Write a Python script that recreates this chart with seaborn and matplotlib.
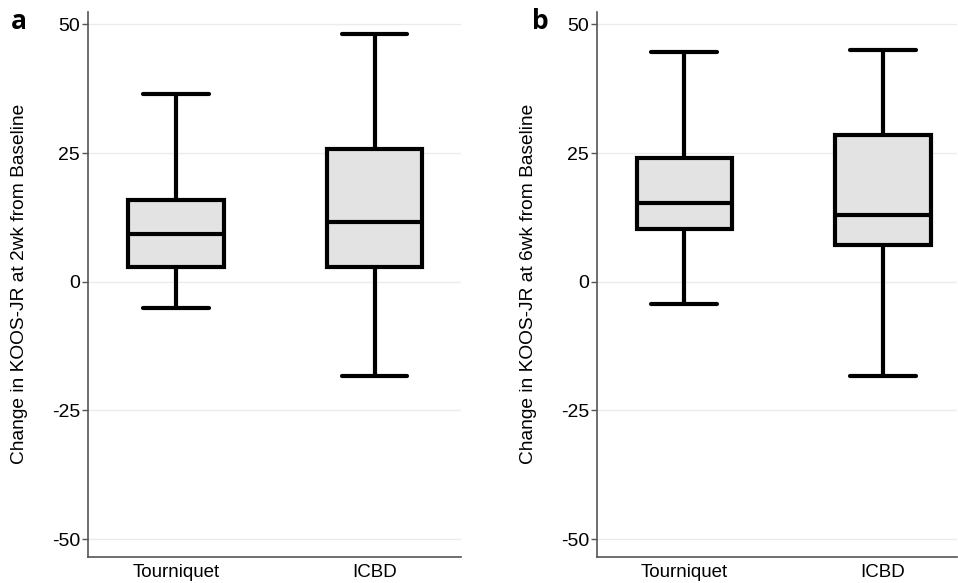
import matplotlib
matplotlib.use("Agg")
import matplotlib.pyplot as plt
import seaborn as sns
import pandas as pd
import numpy as np

# Five-number summaries: [min, Q1, median, Q3, max]
groups = ["Tourniquet", "ICBD"]
wk2_tourniquet = [-5.0, 2.8, 9.2, 15.9, 36.5]
wk2_icbd = [-18.3, 2.8, 11.7, 25.8, 48.2]
wk6_tourniquet = [-4.3, 10.2, 15.3, 24.0, 44.7]
wk6_icbd = [-18.3, 7.1, 13.0, 28.5, 45.0]
yticks = [-50, -25, 0, 25, 50]
ylabels = ["Change in KOOS-JR at 2wk from Baseline",
           "Change in KOOS-JR at 6wk from Baseline"]
panel_letters = ["a", "b"]

sns.set_style("white")
plt.rcParams["font.family"] = ["Liberation Sans", "DejaVu Sans"]
plt.rcParams["text.color"] = "black"

def frame(t, i):
    return pd.DataFrame({"group": [groups[0]] * len(t) + [groups[1]] * len(i),
                         "value": list(t) + list(i)})

dfs = [frame(wk2_tourniquet, wk2_icbd), frame(wk6_tourniquet, wk6_icbd)]

fig = plt.figure(figsize=(9.58, 5.83), dpi=100)
axes = [fig.add_axes([0.0922, 0.0451, 0.389, 0.9343]),
        fig.add_axes([0.6235, 0.0451, 0.3755, 0.9343])]
xlims = [(-0.44, 1.434), (-0.4375, 1.372)]
label_x = [-0.162, -0.167]
letter_pos = [(19 / 958, 1 - 21.5 / 583), (540 / 958, 1 - 21.7 / 583)]

for k, ax in enumerate(axes):
    sns.boxplot(data=dfs[k], x="group", y="value", order=groups, ax=ax,
                whis=(0, 100), width=0.48, color="#e3e3e3", saturation=1,
                linecolor="black", linewidth=3, capwidths=0.33, showfliers=False)
    ax.set_xlim(*xlims[k])
    ax.set_ylim(-53.4, 52.4)
    ax.set_yticks(yticks)
    ax.set_yticklabels([str(v) for v in yticks])
    ax.yaxis.grid(True, color="#ebebeb", linewidth=1)
    ax.xaxis.grid(False)
    ax.set_axisbelow(True)
    for s in ["top", "right"]:
        ax.spines[s].set_visible(False)
    for s in ["left", "bottom"]:
        ax.spines[s].set_color("#555555")
        ax.spines[s].set_linewidth(1.2)
    ax.tick_params(axis="y", left=True, length=4, width=1, color="#555555",
                   labelsize=14, pad=2, labelcolor="black")
    ax.tick_params(axis="x", bottom=False, length=0, labelsize=13.5, pad=5,
                   labelcolor="black")
    ax.set_xlabel("")
    ax.set_ylabel(ylabels[k], fontsize=13.8, color="black")
    ax.yaxis.set_label_coords(label_x[k], 0.5)
    fig.text(letter_pos[k][0], letter_pos[k][1], panel_letters[k],
             fontsize=19, fontweight="bold", family=["Open Sans", "DejaVu Sans"],
             ha="center", va="center", color="black")

fig.savefig("out.png", dpi=100)
